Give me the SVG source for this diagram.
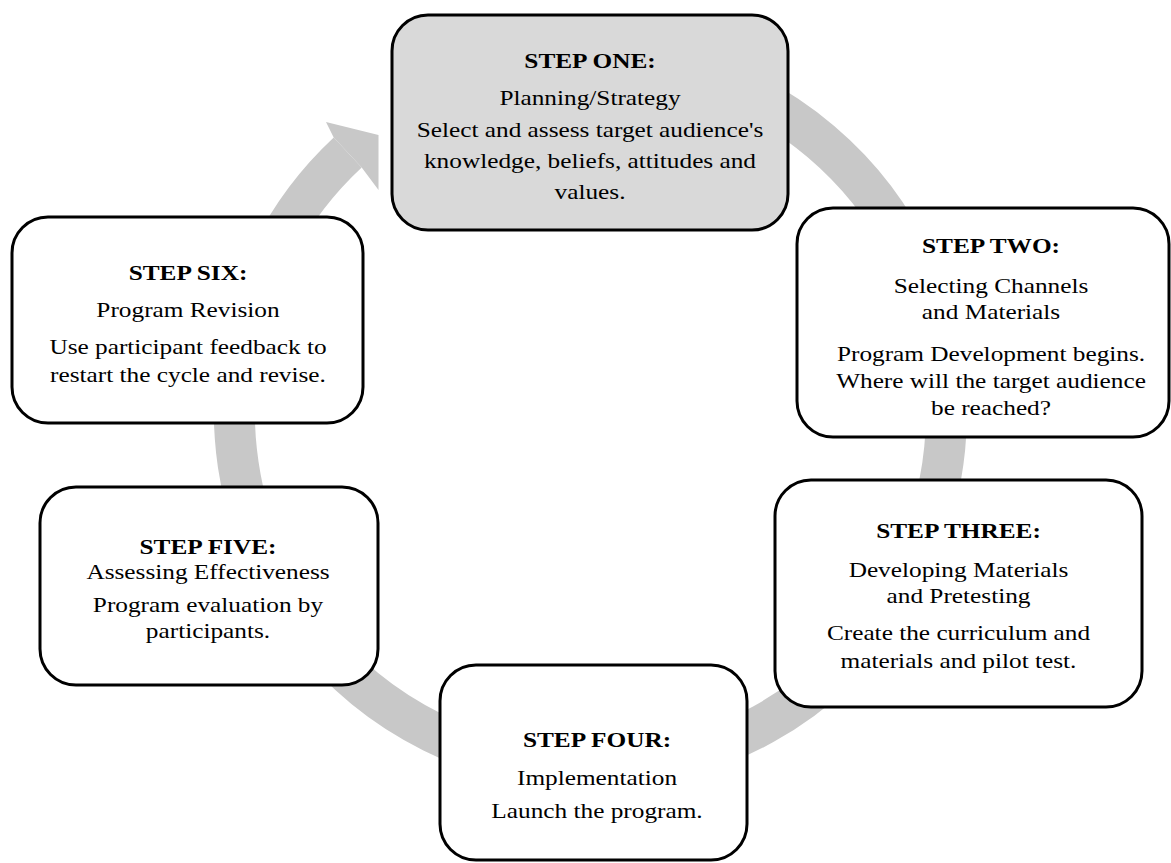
<svg xmlns="http://www.w3.org/2000/svg" width="1171" height="863" viewBox="0 0 1171 863">
  <style>
    .box { fill: #ffffff; stroke: #000000; stroke-width: 3; }
    .shaded { fill: #d9d9d9; }
    .ring { fill: none; stroke: #c8c8c8; stroke-width: 41; }
    .head { fill: #c8c8c8; }
    text { font-family: "Liberation Serif", "Times New Roman", serif; font-size: 22px; fill: #000000; text-anchor: middle; }
    .h { font-weight: bold; }
  </style>
  <rect width="1171" height="863" fill="#ffffff"/>

  <!-- cycle ring running clockwise behind the steps, ending in an arrowhead pointing at step one -->
  <g id="connectors">
    <path class="ring" d="M 498.4 69.1 A 356 356 0 1 1 347.7 152.6"/>
    <polygon class="head" points="333.7,137.6 326,122 378.5,135 378.5,190 361.7,167.6"/>
  </g>

  <g id="step-one">
    <rect class="box shaded" x="392" y="15" width="396" height="215" rx="36"/>
    <g transform="translate(590,0) scale(1.15,1)">
      <text class="h" x="0" y="68">STEP ONE:</text>
      <text x="0" y="105">Planning/Strategy</text>
      <text x="0" y="137">Select and assess target audience's</text>
      <text x="0" y="168">knowledge, beliefs, attitudes and</text>
      <text x="0" y="199">values.</text>
    </g>
  </g>

  <g id="step-two">
    <rect class="box" x="797" y="208" width="372" height="229" rx="36"/>
    <g transform="translate(991,0) scale(1.15,1)">
      <text class="h" x="0" y="253">STEP TWO:</text>
      <text x="0" y="293">Selecting Channels</text>
      <text x="0" y="319">and Materials</text>
      <text x="0" y="361">Program Development begins.</text>
      <text x="0" y="388">Where will the target audience</text>
      <text x="0" y="415">be reached?</text>
    </g>
  </g>

  <g id="step-three">
    <rect class="box" x="775" y="480" width="367" height="227" rx="36"/>
    <g transform="translate(958.5,0) scale(1.15,1)">
      <text class="h" x="0" y="538">STEP THREE:</text>
      <text x="0" y="577">Developing Materials</text>
      <text x="0" y="603">and Pretesting</text>
      <text x="0" y="640">Create the curriculum and</text>
      <text x="0" y="668">materials and pilot test.</text>
    </g>
  </g>

  <g id="step-four">
    <rect class="box" x="440" y="665" width="307" height="195" rx="36"/>
    <g transform="translate(597,0) scale(1.15,1)">
      <text class="h" x="0" y="747">STEP FOUR:</text>
      <text x="0" y="785">Implementation</text>
      <text x="0" y="818">Launch the program.</text>
    </g>
  </g>

  <g id="step-five">
    <rect class="box" x="40" y="487" width="338" height="198" rx="36"/>
    <g transform="translate(208,0) scale(1.15,1)">
      <text class="h" x="0" y="554">STEP FIVE:</text>
      <text x="0" y="579">Assessing Effectiveness</text>
      <text x="0" y="612">Program evaluation by</text>
      <text x="0" y="638">participants.</text>
    </g>
  </g>

  <g id="step-six">
    <rect class="box" x="12" y="217" width="351" height="206" rx="36"/>
    <g transform="translate(188,0) scale(1.15,1)">
      <text class="h" x="0" y="280">STEP SIX:</text>
      <text x="0" y="317">Program Revision</text>
      <text x="0" y="354">Use participant feedback to</text>
      <text x="0" y="382">restart the cycle and revise.</text>
    </g>
  </g>
</svg>
